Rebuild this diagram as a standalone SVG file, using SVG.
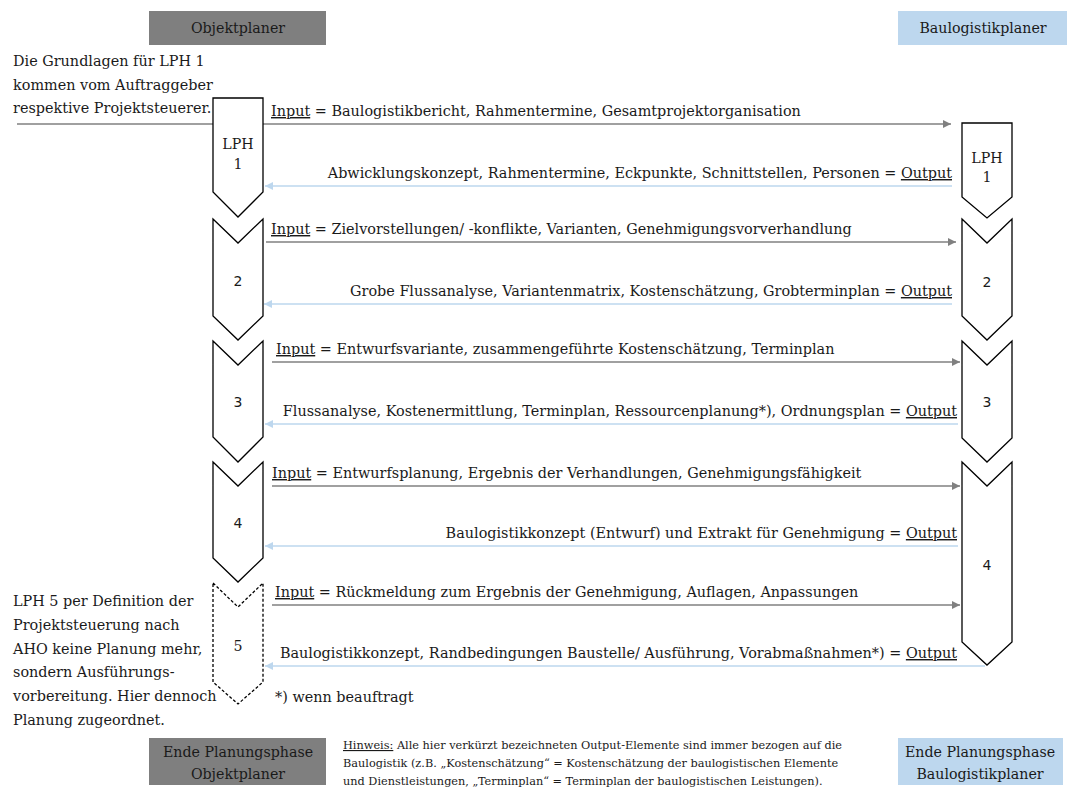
<svg xmlns="http://www.w3.org/2000/svg" width="1067" height="791" viewBox="0 0 1067 791">
  <style>
    text { font-family: "DejaVu Serif", "Liberation Serif", serif; fill: #1a1a1a; }
    .t { font-size: 14.4px; }
    .lbl { font-size: 14.2px; text-anchor: middle; }
    .num { font-family: "DejaVu Sans", "Liberation Sans", sans-serif; font-size: 14px; text-anchor: middle; }
    .note { font-size: 11.3px; }
    .u { text-decoration: underline; }
    .phase { fill: #ffffff; stroke: #000000; stroke-width: 1.3; }
    .dashed { stroke-dasharray: 3 2; }
    .in { stroke: #808080; stroke-width: 1.3; fill: none; marker-end: url(#ahGray); }
    .out { stroke: #bdd7ee; stroke-width: 1.3; fill: none; marker-end: url(#ahBlue); }
    .gray { fill: #7f7f7f; }
    .blue { fill: #bdd7ee; }
  </style>
  <defs>
    <marker id="ahGray" viewBox="0 0 10 10" refX="10" refY="5" markerWidth="10" markerHeight="8" markerUnits="userSpaceOnUse" orient="auto">
      <path d="M0,0 L10,5 L0,10 z" fill="#808080"/>
    </marker>
    <marker id="ahBlue" viewBox="0 0 10 10" refX="10" refY="5" markerWidth="10" markerHeight="8" markerUnits="userSpaceOnUse" orient="auto">
      <path d="M0,0 L10,5 L0,10 z" fill="#bdd7ee"/>
    </marker>
  </defs>

  <rect width="1067" height="791" fill="#ffffff"/>

  <!-- column headers -->
  <g id="head-objekt">
    <rect class="gray" x="149" y="11" width="177" height="34"/>
    <text class="lbl" x="238" y="33">Objektplaner</text>
  </g>
  <g id="head-baulogistik">
    <rect class="blue" x="898" y="11" width="169" height="34"/>
    <text class="lbl" x="983" y="33">Baulogistikplaner</text>
  </g>

  <!-- side notes -->
  <g id="note-lph1">
    <text class="t" x="13" y="66">Die Grundlagen für LPH 1</text>
    <text class="t" x="13" y="90">kommen vom Auftraggeber</text>
    <text class="t" x="13" y="113">respektive Projektsteuerer.</text>
  </g>
  <g id="note-lph5">
    <text class="t" x="13" y="606">LPH 5 per Definition der</text>
    <text class="t" x="13" y="630">Projektsteuerung nach</text>
    <text class="t" x="13" y="654">AHO keine Planung mehr,</text>
    <text class="t" x="13" y="677">sondern Ausführungs-</text>
    <text class="t" x="13" y="701">vorbereitung. Hier dennoch</text>
    <text class="t" x="13" y="725">Planung zugeordnet.</text>
  </g>

  <!-- connectors -->
  <g id="connectors">
    <line x1="17" y1="124" x2="213" y2="124" stroke="#808080" stroke-width="1.3"/>
    <line class="in" x1="263" y1="124" x2="951" y2="124"/>
    <line class="out" x1="952" y1="186" x2="265" y2="186"/>
    <line class="in" x1="266" y1="242" x2="956" y2="242"/>
    <line class="out" x1="952" y1="304" x2="264" y2="304"/>
    <line class="in" x1="272" y1="362" x2="960" y2="362"/>
    <line class="out" x1="958" y1="424" x2="265" y2="424"/>
    <line class="in" x1="272" y1="486" x2="960" y2="486"/>
    <line class="out" x1="958" y1="546" x2="265" y2="546"/>
    <line class="in" x1="272" y1="605" x2="960" y2="605"/>
    <line class="out" x1="985" y1="666" x2="265" y2="666"/>
  </g>

  <!-- connector labels -->
  <g id="labels">
    <text class="t" x="271" y="116"><tspan class="u">Input</tspan> = Baulogistikbericht, Rahmentermine, Gesamtprojektorganisation</text>
    <text class="t" x="952" y="178" text-anchor="end">Abwicklungskonzept, Rahmentermine, Eckpunkte, Schnittstellen, Personen = <tspan class="u">Output</tspan></text>
    <text class="t" x="271" y="234"><tspan class="u">Input</tspan> = Zielvorstellungen/ -konflikte, Varianten, Genehmigungsvorverhandlung</text>
    <text class="t" x="952" y="296" text-anchor="end">Grobe Flussanalyse, Variantenmatrix, Kostenschätzung, Grobterminplan = <tspan class="u">Output</tspan></text>
    <text class="t" x="276" y="354"><tspan class="u">Input</tspan> = Entwurfsvariante, zusammengeführte Kostenschätzung, Terminplan</text>
    <text class="t" x="957" y="416" text-anchor="end">Flussanalyse, Kostenermittlung, Terminplan, Ressourcenplanung*), Ordnungsplan = <tspan class="u">Output</tspan></text>
    <text class="t" x="272" y="478"><tspan class="u">Input</tspan> = Entwurfsplanung, Ergebnis der Verhandlungen, Genehmigungsfähigkeit</text>
    <text class="t" x="957" y="538" text-anchor="end">Baulogistikkonzept (Entwurf) und Extrakt für Genehmigung = <tspan class="u">Output</tspan></text>
    <text class="t" x="275" y="597"><tspan class="u">Input</tspan> = Rückmeldung zum Ergebnis der Genehmigung, Auflagen, Anpassungen</text>
    <text class="t" x="957" y="658" text-anchor="end">Baulogistikkonzept, Randbedingungen Baustelle/ Ausführung, Vorabmaßnahmen*) = <tspan class="u">Output</tspan></text>
    <text class="t" x="275" y="702">*) wenn beauftragt</text>
  </g>

  <!-- phases, Objektplaner side -->
  <g id="op-lph1">
    <path class="phase" d="M213,98 L263,98 L263,192 L238,217 L213,192 Z"/>
    <text class="lbl" x="238" y="149">LPH</text>
    <text class="lbl" x="238" y="169">1</text>
  </g>
  <g id="op-lph2">
    <path class="phase" d="M213,219 L238,243 L263,219 L263,316 L238,340 L213,316 Z"/>
    <text class="num" x="238" y="286">2</text>
  </g>
  <g id="op-lph3">
    <path class="phase" d="M213,341 L238,365 L263,341 L263,437 L238,462 L213,437 Z"/>
    <text class="num" x="238" y="407">3</text>
  </g>
  <g id="op-lph4">
    <path class="phase" d="M213,462 L238,486 L263,462 L263,558 L238,582 L213,558 Z"/>
    <text class="num" x="238" y="528">4</text>
  </g>
  <g id="op-lph5">
    <path class="phase dashed" d="M213,583 L238,607 L263,583 L263,682 L238,704 L213,682 Z"/>
    <text class="lbl" x="238" y="651">5</text>
  </g>

  <!-- phases, Baulogistikplaner side -->
  <g id="bl-lph1">
    <path class="phase" d="M962,123 L1012,123 L1012,197 L987,218 L962,197 Z"/>
    <text class="lbl" x="987" y="163">LPH</text>
    <text class="lbl" x="987" y="182">1</text>
  </g>
  <g id="bl-lph2">
    <path class="phase" d="M962,219 L987,243 L1012,219 L1012,316 L987,340 L962,316 Z"/>
    <text class="num" x="987" y="287">2</text>
  </g>
  <g id="bl-lph3">
    <path class="phase" d="M962,341 L987,365 L1012,341 L1012,438 L987,462 L962,438 Z"/>
    <text class="num" x="987" y="407">3</text>
  </g>
  <g id="bl-lph4">
    <path class="phase" d="M962,462 L987,486 L1012,462 L1012,642 L987,665 L962,642 Z"/>
    <text class="num" x="987" y="570">4</text>
  </g>

  <!-- end of planning phase -->
  <g id="end-objekt">
    <rect class="gray" x="149" y="738" width="177" height="47"/>
    <text class="lbl" x="238" y="757">Ende Planungsphase</text>
    <text class="lbl" x="238" y="779">Objektplaner</text>
  </g>
  <g id="end-baulogistik">
    <rect class="blue" x="898" y="738" width="165" height="47"/>
    <text class="lbl" x="980" y="757">Ende Planungsphase</text>
    <text class="lbl" x="980" y="779">Baulogistikplaner</text>
  </g>

  <!-- remark -->
  <g id="hinweis">
    <text class="note" x="343" y="749"><tspan class="u">Hinweis:</tspan> Alle hier verkürzt bezeichneten Output-Elemente sind immer bezogen auf die</text>
    <text class="note" x="343" y="767">Baulogistik (z.B. „Kostenschätzung“ = Kostenschätzung der baulogistischen Elemente</text>
    <text class="note" x="343" y="785">und Dienstleistungen, „Terminplan“ = Terminplan der baulogistischen Leistungen).</text>
  </g>
</svg>
